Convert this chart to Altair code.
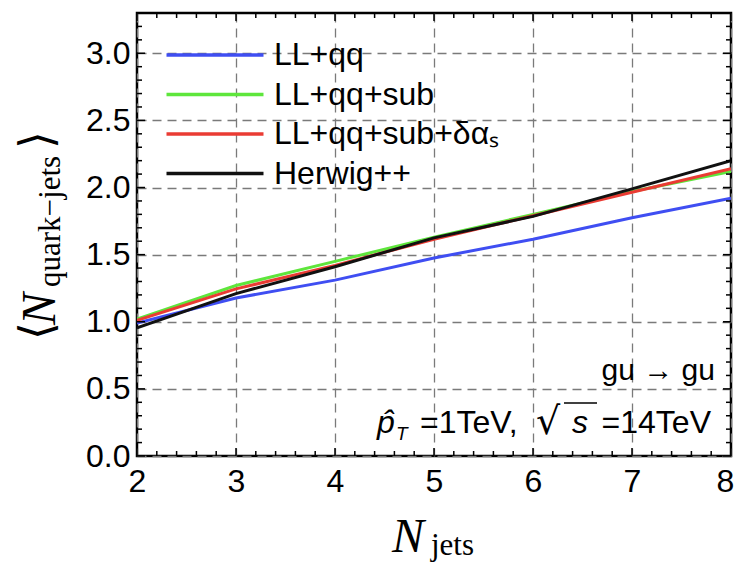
import altair as alt
import pandas as pd

# ---------------- data ----------------
n_jets = [2, 3, 4, 5, 6, 7, 8]
series_names = ["LL+qq", "LL+qq+sub", "LL+qq+sub+δαₛ", "Herwig++"]
series_colors = ["#3f4ef2", "#5ee63c", "#ea3b33", "#111111"]
ll_qq = [0.99, 1.177, 1.31, 1.475, 1.615, 1.775, 1.92]
ll_qq_sub = [1.02, 1.27, 1.45, 1.63, 1.80, 1.97, 2.12]
ll_qq_sub_das = [1.01, 1.245, 1.42, 1.615, 1.79, 1.965, 2.14]
herwig = [0.955, 1.21, 1.41, 1.625, 1.785, 1.99, 2.20]

x_major = [2, 3, 4, 5, 6, 7, 8]
y_major = [0.0, 0.5, 1.0, 1.5, 2.0, 2.5, 3.0]
x_minor = [round(2 + 0.2 * i, 1) for i in range(31) if i % 5]
y_minor = [round(0.1 * i, 1) for i in range(34) if i % 5]

rows = []
for name, vals in zip(series_names, [ll_qq, ll_qq_sub, ll_qq_sub_das, herwig]):
    for n, v in zip(n_jets, vals):
        rows.append({"series": name, "n": n, "v": v})
df = pd.DataFrame(rows)

W, H = 594, 443
xs = alt.Scale(domain=[2, 8], nice=False, zero=False)
ys = alt.Scale(domain=[0, 3.3], nice=False, zero=False)

grid_kw = dict(grid=True, gridDash=[9, 6], gridColor="#7a7a7a", gridWidth=1.3,
               ticks=False, domain=False, title=None, labelFlush=False,
               labelFont="Liberation Sans", labelFontSize=32, labelColor="black")
x_axis = alt.Axis(values=x_major, labelPadding=10,
                  labelOffset={"condition": {"test": "datum.value == 8", "value": -6}, "value": 0},
                  **grid_kw)
y_axis = alt.Axis(values=y_major, format=".1f", labelPadding=7, **grid_kw)

lines = alt.Chart(df).mark_line(strokeWidth=3, clip=True).encode(
    x=alt.X("n:Q", scale=xs, axis=x_axis),
    y=alt.Y("v:Q", scale=ys, axis=y_axis),
    color=alt.Color(
        "series:N",
        sort=series_names,
        scale=alt.Scale(domain=series_names, range=series_colors),
        legend=alt.Legend(
            title=None, orient="none", legendX=62, legendY=26,
            symbolType="M-4,0H4", symbolSize=588, symbolStrokeWidth=3.5,
            labelFont="Liberation Sans", labelFontSize=32, labelColor="black",
            labelOffset=43, rowPadding=7.5, padding=0, labelLimit=400,
        ),
    ),
)


def xticks(vals, length, top):
    d = pd.DataFrame({"t": vals})
    y0 = 0 if top else H
    y1 = length if top else H - length
    return alt.Chart(d).mark_rule(color="black", strokeWidth=1.5).encode(
        x=alt.X("t:Q", scale=xs, axis=x_axis), y=alt.value(y0), y2=alt.value(y1))


def yticks(vals, length, right):
    d = pd.DataFrame({"t": vals})
    x0 = W if right else 0
    x1 = W - length if right else length
    return alt.Chart(d).mark_rule(color="black", strokeWidth=1.5).encode(
        y=alt.Y("t:Q", scale=ys, axis=y_axis), x=alt.value(x0), x2=alt.value(x1))


def txt(s, x, y, size, font="Liberation Sans", style="normal", align="left", angle=0):
    return alt.Chart(alt.Data(values=[{}])).mark_text(
        text=s, font=font, fontSize=size, fontStyle=style, align=align,
        baseline="alphabetic", angle=angle, color="black",
    ).encode(x=alt.value(x), y=alt.value(y))


ticks = [
    xticks(x_minor, 5, False), xticks(x_major, 8, False),
    xticks(x_minor, 5, True), xticks(x_major, 8, True),
    yticks(y_minor, 5, False), yticks(y_major, 8, False),
    yticks(y_minor, 5, True), yticks(y_major, 8, True),
]

labels = [
    # x title
    txt("N", 255, 539, 48, font="Liberation Serif", style="italic"),
    txt("jets", 294, 542, 31, font="Liberation Serif"),
    # y title (rotated)
    txt("⟨", -85, 327, 46, font="DejaVu Serif", angle=270),
    txt("N", -82, 312, 48, font="Liberation Serif", style="italic", angle=270),
    txt("quark−jets", -77, 274, 31, font="Liberation Serif", angle=270),
    txt("⟩", -85, 136, 46, font="DejaVu Serif", angle=270),
    # annotations
    txt("gu → gu", 578, 367, 30, align="right"),
    txt("p̂", 240, 420, 32, style="italic"),
    txt("T", 259, 427, 19, style="italic"),
    txt("=1TeV,", 283, 420, 32),
    txt("√", 399, 421, 38, font="DejaVu Sans"),
    txt("s", 435, 420, 32, style="italic"),
    txt("=14TeV", 574, 420, 32, align="right"),
]

overline = alt.Chart(alt.Data(values=[{}])).mark_rule(color="black", strokeWidth=1.6).encode(
    x=alt.value(427), x2=alt.value(460), y=alt.value(390))

chart = alt.layer(lines, *ticks, *labels, overline).properties(
    width=W, height=H,
    padding={"left": 129, "top": 5, "right": 3, "bottom": 110},
    autosize=alt.AutoSizeParams(type="none"),
).configure_view(stroke="black", strokeWidth=2.5)

chart.save("out.html", embed_options={"renderer": "svg", "actions": False})
